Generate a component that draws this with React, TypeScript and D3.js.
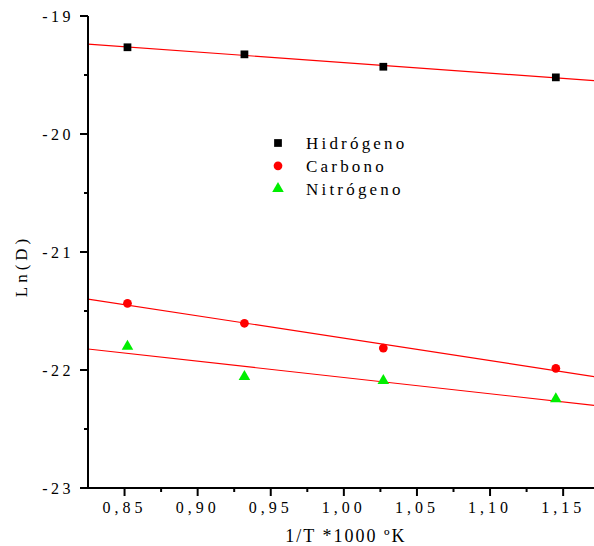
import React, { useEffect, useRef } from 'react'
import * as d3 from 'd3'

// 1/T * 1000
const invT: number[] = [0.852, 0.932, 1.027, 1.145]
const hidrogeno: number[] = [-19.265, -19.325, -19.43, -19.52]
const carbono: number[] = [-21.435, -21.604, -21.814, -21.986]
const nitrogeno: number[] = [-21.8, -22.057, -22.09, -22.246]

const seriesNames: string[] = ['Hidrógeno', 'Carbono', 'Nitrógeno']
const xTicks: number[] = [0.85, 0.9, 0.95, 1.0, 1.05, 1.1, 1.15]
const yTicks: number[] = [-19, -20, -21, -22, -23]

const fmtX = (v: number) => v.toFixed(2).replace('.', ',')

const App = () => {
  const svgRef = useRef<SVGSVGElement | null>(null)

  useEffect(() => {
    const svg = d3.select(svgRef.current)
    svg.selectAll('*').remove()

    const width = 594
    const left = 88
    const top = 16
    const bottom = 488

    const x = d3.scaleLinear().domain([0.825, 1.175]).range([left, left + (1.175 - 0.825) / 0.05 * 73.1])
    const y = d3.scaleLinear().domain([-23, -19]).range([bottom, top])

    const font = '"Liberation Serif", "Times New Roman", serif'

    // regression lines through each series
    const fit = (ys: number[]) => {
      const mx = d3.mean(invT) as number
      const my = d3.mean(ys) as number
      let sxy = 0
      let sxx = 0
      invT.forEach((v, i) => {
        sxy += (v - mx) * (ys[i] - my)
        sxx += (v - mx) * (v - mx)
      })
      const b = sxy / sxx
      return (v: number) => my + b * (v - mx)
    }

    const series = [
      { name: seriesNames[0], values: hidrogeno, color: '#000000', symbol: d3.symbolSquare, size: 60 },
      { name: seriesNames[1], values: carbono, color: '#ff0000', symbol: d3.symbolCircle, size: 60 },
      { name: seriesNames[2], values: nitrogeno, color: '#00ee00', symbol: d3.symbolTriangle, size: 58 }
    ]

    const plot = svg.append('g')
    svg.append('clipPath').attr('id', 'clip')
      .append('rect').attr('x', left).attr('y', top).attr('width', width - left).attr('height', bottom - top)

    const xmin = 0.825
    const xmax = x.invert(width)
    series.forEach(s => {
      const f = fit(s.values)
      plot.append('line')
        .attr('clip-path', 'url(#clip)')
        .attr('x1', x(xmin)).attr('y1', y(f(xmin)))
        .attr('x2', x(xmax)).attr('y2', y(f(xmax)))
        .attr('stroke', '#ff0000')
        .attr('stroke-width', 1.2)
    })

    series.forEach(s => {
      plot.selectAll(null)
        .data(s.values)
        .enter()
        .append('path')
        .attr('d', d3.symbol().type(s.symbol).size(s.size))
        .attr('transform', (d, i) => `translate(${x(invT[i])},${y(d)})`)
        .attr('fill', s.color)
    })

    // axes
    const axisG = svg.append('g')
    axisG.append('line').attr('x1', left).attr('x2', left).attr('y1', top).attr('y2', bottom)
      .attr('stroke', '#000').attr('stroke-width', 2)
    axisG.append('line').attr('x1', left).attr('x2', width).attr('y1', bottom).attr('y2', bottom)
      .attr('stroke', '#000').attr('stroke-width', 2)

    // y ticks (major + minor)
    yTicks.forEach(t => {
      axisG.append('line').attr('x1', left - 8).attr('x2', left).attr('y1', y(t)).attr('y2', y(t))
        .attr('stroke', '#000').attr('stroke-width', 2)
      axisG.append('text')
        .attr('x', left - 14).attr('y', y(t)).attr('dy', '0.35em')
        .attr('text-anchor', 'end')
        .style('font-family', font).style('font-size', '16px').style('letter-spacing', '3.5px')
        .text(`-${Math.abs(t)}`)
    })
    d3.range(-22.5, -19, 1).forEach(t => {
      axisG.append('line').attr('x1', left - 4).attr('x2', left).attr('y1', y(t)).attr('y2', y(t))
        .attr('stroke', '#000').attr('stroke-width', 2)
    })

    // x ticks (major + minor)
    xTicks.forEach(t => {
      axisG.append('line').attr('x1', x(t)).attr('x2', x(t)).attr('y1', bottom).attr('y2', bottom + 8)
        .attr('stroke', '#000').attr('stroke-width', 2)
      axisG.append('text')
        .attr('x', x(t)).attr('y', bottom + 25)
        .attr('text-anchor', 'middle')
        .style('font-family', font).style('font-size', '16px').style('letter-spacing', '4px')
        .text(fmtX(t))
    })
    ;[0.875, 0.925, 0.975, 1.025, 1.075, 1.125].forEach(t => {
      axisG.append('line').attr('x1', x(t)).attr('x2', x(t)).attr('y1', bottom).attr('y2', bottom + 4)
        .attr('stroke', '#000').attr('stroke-width', 2)
    })

    // axis titles
    svg.append('text')
      .attr('x', 346).attr('y', 542)
      .attr('text-anchor', 'middle')
      .style('font-family', font).style('font-size', '18px').style('letter-spacing', '2px')
      .text('1/T  *1000 ºK')
    svg.append('text')
      .attr('transform', `translate(27,266) rotate(-90)`)
      .attr('text-anchor', 'middle')
      .style('font-family', font).style('font-size', '17px').style('letter-spacing', '4px')
      .text('Ln(D)')

    // legend
    const legend = svg.append('g').attr('transform', 'translate(278,143)')
    series.forEach((s, i) => {
      const g = legend.append('g').attr('transform', `translate(0,${i * 22.8})`)
      g.append('path').attr('d', d3.symbol().type(s.symbol).size(s.size)).attr('fill', s.color)
      g.append('text')
        .attr('x', 28).attr('y', 0).attr('dy', '0.35em')
        .style('font-family', font).style('font-size', '17px').style('letter-spacing', '3.2px')
        .text(s.name)
    })
  }, [])

  return (
    <div style={{ position: 'absolute', left: 0, top: 0 }}>
      <svg ref={svgRef} width={594} height={546} style={{ display: 'block', background: '#fff' }}></svg>
    </div>
  )
}

export default App
